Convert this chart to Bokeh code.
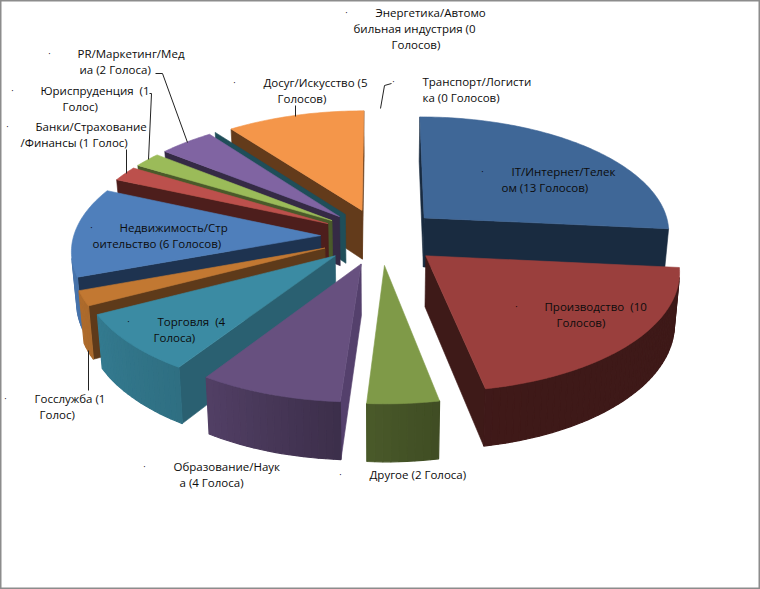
import numpy as np
from bokeh.plotting import figure
from bokeh.models import Range1d
from bokeh.core.properties import value
from bokeh.embed import file_html
from bokeh.resources import INLINE

# ---- data -------------------------------------------------------------
categories = ["IT/Интернет/Телеком", "Производство", "Другое", "Образование/Наука",
              "Торговля", "Госслужба", "Недвижимость/Строительство",
              "Банки/Страхование/Финансы", "Юриспруденция", "PR/Маркетинг/Медиа",
              "Энергетика/Автомобильная индустрия", "Досуг/Искусство",
              "Транспорт/Логистика"]
votes = [13, 10, 2, 4, 4, 1, 6, 1, 1, 2, 0, 5, 0]

top_colors = ["#3F6797", "#9A3F3D", "#7F9A48", "#67507F", "#3B8BA3", "#C27832", "#4F7FBB",
              "#BC504C", "#9BBB59", "#8064A2", "#2A8090", "#F4964A", "#4F81BD"]
side_colors = ["#192B40", "#3E1A18", "#4A5628", "#54406C", "#2A6071", "#5E3A1A", "#1E3350",
               "#4D1E1C", "#4A5A2A", "#352A45", "#1F4E59", "#633B1B", "#1E3350"]

label_lines = [
    ["IT/Интернет/Телек", "ом (13 Голосов)"],
    ["Производство\u00a0 (10", "Голосов)"],
    ["Другое (2 Голоса)"],
    ["Образование/Наук", "а (4 Голоса)"],
    ["Торговля\u00a0 (4", "Голоса)"],
    ["Госслужба (1", "Голос)"],
    ["Недвижимость/Стр", "оительство (6 Голосов)"],
    ["Банки/Страхование", "/Финансы (1 Голос)"],
    ["Юриспруденция\u00a0 (1", "Голос)"],
    ["PR/Маркетинг/Мед", "иа (2 Голоса)"],
    ["Энергетика/Автомо", "бильная индустрия (0", "Голосов)"],
    ["Досуг/Искусство (5", "Голосов)"],
    ["Транспорт/Логисти", "ка (0 Голосов)"],
]
# ---- layout -----------------------------------------------------------
label_x = [[511, 501], [544, 556], [369], [173, 179], [157, 153], [34, 39], [119, 92],
           [35, 20], [40, 62], [77, 79], [375, 353, 391], [263, 277], [422, 422]]
label_y = [[171, 187], [306, 322], [474], [466, 482], [321, 337], [398, 414], [227, 243],
           [126, 142], [90, 106], [53, 69], [12, 28, 44], [82, 98], [81, 97]]
dot_x = [482, 516, 340, 144, 128, 5, 91, 7, 12, 49, 346, 234, 393]
dot_y = [171, 306, 474, 466, 321, 398, 227, 126, 90, 53, 12, 82, 81]
leaders = [([295, 295], [105, 116]), ([126, 126], [149, 173]), ([149, 151, 148], [93, 93, 159]),
           ([155, 162, 187], [73, 73, 142]), ([88, 88], [350, 390]), ([380, 384, 391], [108, 85, 83])]

CX, CY, B, K = 380.0, 236.0, 0.47, 0.00045
RADIUS, EXPLODE, DEPTH, CONVERGE = 247.0, 60.0, 50.0, 0.017


def project(X, Y):
    s = 1.0 / (1.0 - K * Y)
    return CX + X * s, CY + B * Y * s, s


def top_point(ox, oy, ang, r):
    t = np.radians(ang)
    return project(ox + r * np.sin(t), oy - r * np.cos(t))


def bottom(px, py, s):
    return CX + (px - CX) * (1 - CONVERGE), py + DEPTH * s


def area(xs, ys):
    x, y = np.array(xs), np.array(ys)
    return float(np.sum(x * np.roll(y, -1) - np.roll(x, -1) * y))


def shade(hex_color, f):
    r, g, b = (int(hex_color[i:i + 2], 16) for i in (1, 3, 5))
    return "#%02x%02x%02x" % (int(r * f), int(g * f), int(b * f))


rim_factor = lambda a: float(np.interp(a, [90, 168.9, 169.1, 183, 213, 242, 270],
                                       [.40, .41, .50, .58, .80, .88, .95]))

total = sum(votes)
starts = np.cumsum([0] + votes[:-1]) * 360.0 / total
ends = starts + np.array(votes) * 360.0 / total
mids = (starts + ends) / 2
off_x = EXPLODE * np.sin(np.radians(mids))
off_y = -EXPLODE * np.cos(np.radians(mids))

pxs, pys, pfill, pwidth = [], [], [], []


def add(xs, ys, color, width=0.6):
    pxs.append(list(map(float, xs)))
    pys.append(list(map(float, ys)))
    pfill.append(color)
    pwidth.append(width)


for i in np.argsort(off_y, kind="stable"):
    a0, a1, ox, oy = starts[i], ends[i], off_x[i], off_y[i]
    ax, ay, asn = project(ox, oy)
    abx, aby = bottom(ax, ay, asn)
    # radial side faces
    for ang, sign in ((a0, -1), (a1, 1)):
        rx, ry, rs = top_point(ox, oy, ang, RADIUS)
        bx, by = bottom(rx, ry, rs)
        qx, qy = [ax, rx, bx, abx], [ay, ry, by, aby]
        if area(qx, qy) * sign > 0:
            add(qx, qy, side_colors[i])
    # outer rim strips
    n = max(int((a1 - a0) / 1.5), 1)
    angs = np.linspace(a0, a1, n + 1)
    if a1 > a0:
        for u, v in zip(angs[:-1], angs[1:]):
            ux, uy, us = top_point(ox, oy, u, RADIUS)
            vx, vy, vs = top_point(ox, oy, v, RADIUS)
            ubx, uby = bottom(ux, uy, us)
            vbx, vby = bottom(vx, vy, vs)
            qx, qy = [ux, vx, vbx, ubx], [uy, vy, vby, uby]
            if area(qx, qy) < 0:
                add(qx, qy, shade(top_colors[i], rim_factor((u + v) / 2)), 1.2)
        # top face
        arc = np.linspace(a0, a1, max(int(a1 - a0), 2) + 1)
        pts = [top_point(ox, oy, a, RADIUS) for a in arc]
        add([ax] + [q[0] for q in pts], [ay] + [q[1] for q in pts], top_colors[i])

p = figure(width=760, height=589, output_backend="svg", toolbar_location=None,
           x_range=Range1d(0, 760), y_range=Range1d(589, 0),
           x_axis_type=None, y_axis_type=None, min_border=0)
p.grid.visible = False
p.outline_line_color = "#8c8c8c"
p.outline_line_width = 2
p.background_fill_color = "white"

p.patches(xs=pxs, ys=pys, fill_color=pfill, line_color=pfill, line_width=pwidth)

for lx, ly in leaders:
    p.line(lx, ly, line_color="#222222", line_width=1)

tx, ty, tt = [], [], []
for lines, xs, ys in zip(label_lines, label_x, label_y):
    for t, x, y in zip(lines, xs, ys):
        tx.append(x); ty.append(y); tt.append(t)
p.text(x=tx, y=ty, text=tt, text_font=value("Open Sans"), text_font_size="11.5px",
       text_color="#0c0c0c", text_align="left", text_baseline="middle")
p.text(x=dot_x, y=dot_y, text=["·"] * len(dot_x), text_font=value("Open Sans"),
       text_font_size="9px", text_color="#000000", text_align="center", text_baseline="middle")

open("out.html", "w").write(file_html(p, INLINE))
